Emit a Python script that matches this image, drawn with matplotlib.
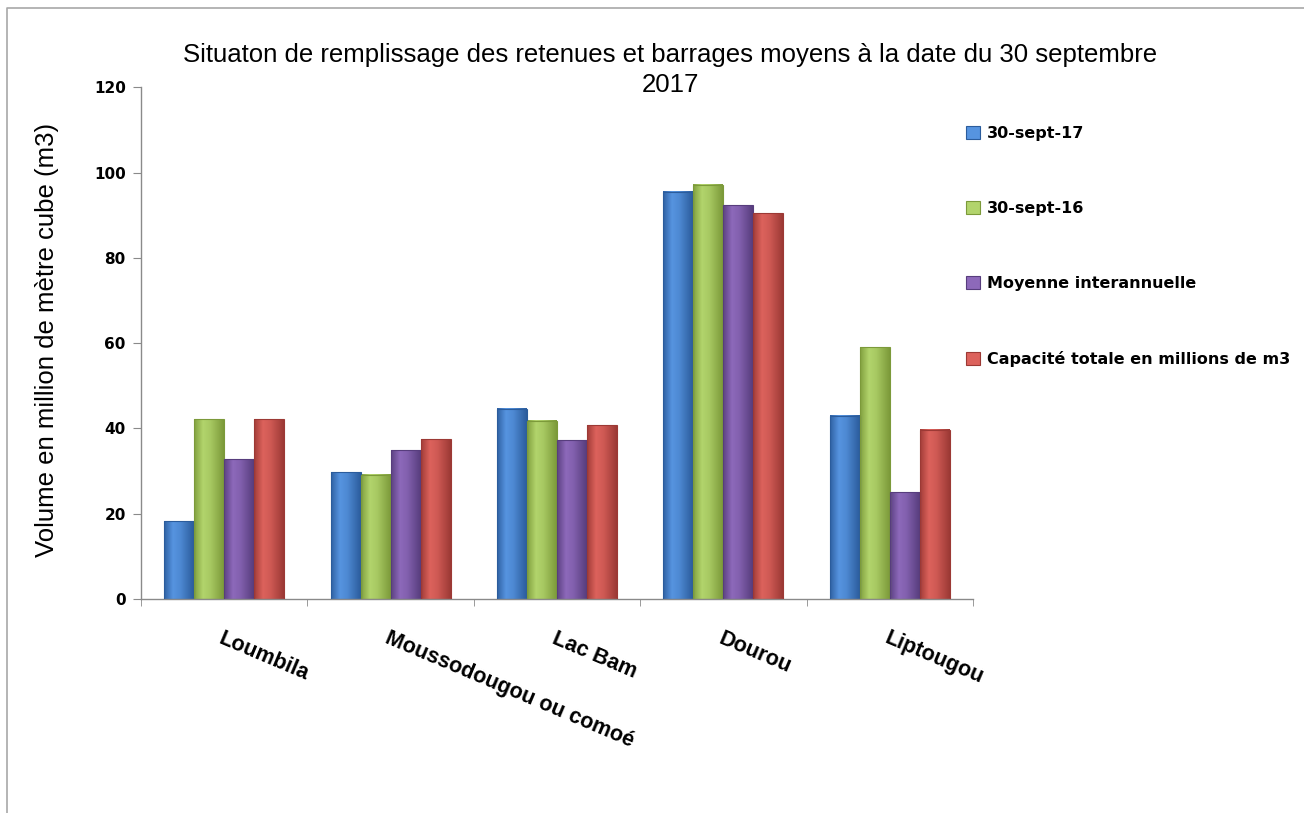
import numpy as np
import matplotlib
matplotlib.use('Agg')
import matplotlib.pyplot as plt
from matplotlib.colors import to_rgb
from matplotlib.lines import Line2D
from matplotlib.patches import Patch

# data (million m3)
sites = ['Loumbila', 'Moussodougou ou comoé', 'Lac Bam', 'Dourou', 'Liptougou']
sept17 = [18.2, 29.7, 44.6, 95.5, 43.0]
sept16 = [42.2, 29.1, 41.8, 97.2, 59.1]
moyenne = [32.8, 34.9, 37.2, 92.3, 25.0]
capacite = [42.2, 37.5, 40.8, 90.5, 39.7]
series_names = ['30-sept-17', '30-sept-16', 'Moyenne interannuelle',
                'Capacité totale en millions de m3']
yticks = [0, 20, 40, 60, 80, 100, 120]

title = 'Situaton de remplissage des retenues et barrages moyens à la date du 30 septembre\n2017'
ylab = 'Volume en million de mètre cube (m3)'

# (dark edge, light centre) for the bevelled excel look
shades = [('#2b5c9c', '#5694e0'),
          ('#7c9a3a', '#b2d46c'),
          ('#573d7d', '#8d69ba'),
          ('#9c3935', '#dc625c')]

narrow = ['Liberation Sans Narrow', 'Liberation Sans', 'DejaVu Sans']
grey = '#8a8a8a'

W, H = 1304, 813
fig = plt.figure(figsize=(W/100, H/100), dpi=100)
ax = fig.add_axes([141/W, 1-599/H, (973-141)/W, (599-87.4)/H])

x = np.arange(len(sites))
w = 0.18
data = [sept17, sept16, moyenne, capacite]
t = np.linspace(0, 1, 64)
k = np.interp(t, [0, 0.3, 0.55, 1], [0.1, 1, 0.8, 0])

handles = []
for j, vals in enumerate(data):
    dark, light = shades[j]
    d, l = np.array(to_rgb(dark)), np.array(to_rgb(light))
    grad = (d + (l - d)*k[:, None])[None, :, :]
    bars = ax.bar(x + (j-1.5)*w, vals, w, facecolor='none', edgecolor=dark,
                  linewidth=0.8, zorder=3)
    for b in bars:
        x0 = b.get_x()
        ax.imshow(grad, extent=[x0, x0+b.get_width(), 0, b.get_height()],
                  aspect='auto', zorder=2, interpolation='bilinear')
    handles.append(Patch(facecolor=light, edgecolor=dark, linewidth=0.8))

ax.set_xlim(-0.5, 4.5)
ax.set_ylim(0, 120)
ax.set_aspect('auto')

for s in ['top', 'right']:
    ax.spines[s].set_visible(False)
for s in ['left', 'bottom']:
    ax.spines[s].set_color(grey)
    ax.spines[s].set_linewidth(1)

ax.set_xticks(x, sites, rotation=-23, ha='left', va='top', rotation_mode='anchor',
              fontweight='bold', fontsize=15.5, family=narrow)
ax.set_xticks(np.arange(-0.5, 5, 1), minor=True)
ax.tick_params(axis='x', which='major', length=0, pad=21)
ax.tick_params(axis='x', which='minor', length=5, color=grey, direction='out')

ax.set_yticks(yticks)
ax.tick_params(axis='y', length=6, color=grey, labelsize=11, pad=5)
for lbl in ax.get_yticklabels():
    lbl.set_fontweight('bold')

fig.legend(handles, series_names, loc='upper left', bbox_to_anchor=(966/W, 1-126/H),
           frameon=False, prop={'weight': 'bold', 'size': 11.5},
           handlelength=0.9, handleheight=0.9, handletextpad=0.4,
           labelspacing=3.75, borderpad=0, borderaxespad=0)

fig.text(670/W, 1-43/H, title, ha='center', va='top', fontsize=18.5,
         family=narrow, linespacing=1.3)
fig.text(47/W, 1-340/H, ylab, rotation=90, ha='center', va='center',
         fontsize=18.5, family=narrow)

# thin frame round the chart area (left and top edges)
fig.add_artist(Line2D([7/W, 7/W, 1], [0, 1-8/H, 1-8/H], transform=fig.transFigure,
                      color='#a8a8a8', linewidth=1.2))

fig.savefig('out.png', dpi=100)
